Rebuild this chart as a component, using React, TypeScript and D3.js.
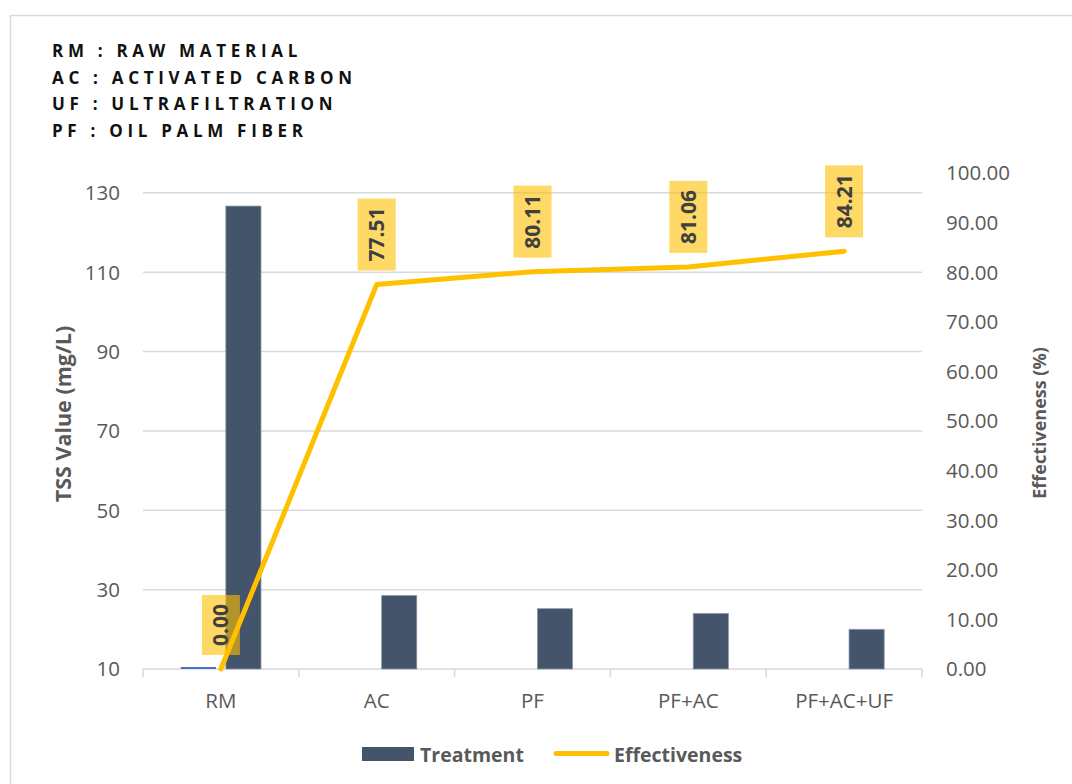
import React, { useEffect, useRef } from 'react';
import * as d3 from 'd3';

// Treatment stages and measured values
const categories = ['RM', 'AC', 'PF', 'PF+AC', 'PF+AC+UF'];
const tssValues = [126.67, 28.49, 25.2, 23.99, 20.0];
const effectiveness = [0, 77.51, 80.11, 81.06, 84.21];
const baselineBars: (number | null)[] = [10.5, null, null, null, null];

const leftTicks = [10, 30, 50, 70, 90, 110, 130];
const rightTicks = [0, 10, 20, 30, 40, 50, 60, 70, 80, 90, 100];

const abbreviations = [
  'RM : RAW MATERIAL',
  'AC : ACTIVATED CARBON',
  'UF : ULTRAFILTRATION',
  'PF : OIL PALM FIBER',
];

const W = 1072;
const H = 784;
const FONT = '"Open Sans", "DejaVu Sans", sans-serif';
const BAR = '#44546A';
const LINE = '#FFC000';
const GRID = '#d9d9d9';
const TEXT = '#595959';

export default function App() {
  const ref = useRef<SVGSVGElement | null>(null);

  useEffect(() => {
    const svg = d3.select(ref.current);
    svg.selectAll('*').remove();

    const plot = { left: 143, right: 922, top: 173, bottom: 669 };

    const x = d3.scaleBand<string>().domain(categories).range([plot.left, plot.right]);
    const x1 = d3
      .scaleBand<string>()
      .domain(['base', 'tss'])
      .range([0, x.bandwidth()])
      .paddingInner(0.22)
      .paddingOuter(0.84);
    const yL = d3.scaleLinear().domain([10, 135]).range([plot.bottom, plot.top]);
    const yR = d3.scaleLinear().domain([0, 100]).range([plot.bottom, plot.top]);

    svg.append('rect').attr('x', 0).attr('y', 0).attr('width', W).attr('height', H).attr('fill', '#fff');
    svg
      .append('rect')
      .attr('x', 10.5)
      .attr('y', 15.5)
      .attr('width', 1200)
      .attr('height', 900)
      .attr('fill', 'none')
      .attr('stroke', GRID)
      .attr('stroke-width', 1.5);

    // Abbreviation key
    const key = svg.append('g');
    abbreviations.forEach((t, i) => {
      key
        .append('text')
        .attr('x', 52)
        .attr('y', 57 + i * 26.7)
        .attr('font-family', FONT)
        .attr('font-weight', 700)
        .attr('font-size', 17)
        .attr('letter-spacing', 4.7)
        .attr('fill', '#111')
        .text(t);
    });

    // Gridlines
    svg
      .append('g')
      .selectAll('line')
      .data(leftTicks)
      .join('line')
      .attr('x1', plot.left)
      .attr('x2', plot.right)
      .attr('y1', (d) => yL(d))
      .attr('y2', (d) => yL(d))
      .attr('stroke', GRID)
      .attr('stroke-width', 1.5);

    // Category tick marks
    const bounds = categories.map((c) => x(c)!).concat([plot.right]);
    svg
      .append('g')
      .selectAll('line')
      .data(bounds)
      .join('line')
      .attr('x1', (d) => d)
      .attr('x2', (d) => d)
      .attr('y1', plot.bottom)
      .attr('y2', plot.bottom + 8)
      .attr('stroke', GRID)
      .attr('stroke-width', 1.5);

    // Left tick labels
    svg
      .append('g')
      .selectAll('text')
      .data(leftTicks)
      .join('text')
      .attr('x', 120)
      .attr('y', (d) => yL(d) + 7.3)
      .attr('text-anchor', 'end')
      .attr('font-family', FONT)
      .attr('font-size', 20.5)
      .attr('fill', TEXT)
      .text((d) => String(d));

    // Right tick labels
    svg
      .append('g')
      .selectAll('text')
      .data(rightTicks)
      .join('text')
      .attr('x', 946)
      .attr('y', (d) => yR(d) + 7.3)
      .attr('font-family', FONT)
      .attr('font-size', 20.5)
      .attr('fill', TEXT)
      .text((d) => d.toFixed(2));

    // Category labels
    svg
      .append('g')
      .selectAll('text')
      .data(categories)
      .join('text')
      .attr('x', (d) => x(d)! + x.bandwidth() / 2)
      .attr('y', 708)
      .attr('text-anchor', 'middle')
      .attr('font-family', FONT)
      .attr('font-size', 20.5)
      .attr('fill', TEXT)
      .text((d) => d);

    // Axis titles
    svg
      .append('text')
      .attr('transform', 'translate(71,414) rotate(-90)')
      .attr('text-anchor', 'middle')
      .attr('font-family', FONT)
      .attr('font-weight', 700)
      .attr('font-size', 21.5)
      .attr('fill', TEXT)
      .text('TSS Value (mg/L)');
    svg
      .append('text')
      .attr('transform', 'translate(1046,423) rotate(-90)')
      .attr('text-anchor', 'middle')
      .attr('font-family', FONT)
      .attr('font-weight', 700)
      .attr('font-size', 18)
      .attr('fill', TEXT)
      .text('Effectiveness (%)');

    // Baseline bars
    svg
      .append('g')
      .selectAll('rect')
      .data(categories.map((c, i) => ({ c, v: baselineBars[i] })).filter((d) => d.v != null))
      .join('rect')
      .attr('x', (d) => x(d.c)! + x1('base')!)
      .attr('width', x1.bandwidth())
      .attr('y', (d) => yL(d.v as number))
      .attr('height', (d) => plot.bottom - yL(d.v as number))
      .attr('fill', '#4472C4');

    // TSS bars
    svg
      .append('g')
      .selectAll('rect')
      .data(categories.map((c, i) => ({ c, v: tssValues[i] })))
      .join('rect')
      .attr('x', (d) => x(d.c)! + x1('tss')!)
      .attr('width', x1.bandwidth())
      .attr('y', (d) => yL(d.v))
      .attr('height', (d) => plot.bottom - yL(d.v))
      .attr('fill', BAR)
      .attr('stroke', '#8a97aa')
      .attr('stroke-width', 0.8);

    // Effectiveness line
    const pts = categories.map((c, i) => ({ c, v: effectiveness[i] }));
    const line = d3
      .line<{ c: string; v: number }>()
      .x((d) => x(d.c)! + x.bandwidth() / 2)
      .y((d) => yR(d.v));
    svg
      .append('path')
      .attr('d', line(pts))
      .attr('fill', 'none')
      .attr('stroke', LINE)
      .attr('stroke-width', 5)
      .attr('stroke-linejoin', 'round')
      .attr('stroke-linecap', 'round');

    // Value labels
    const labels = svg.append('g');
    pts.forEach((d) => {
      const cx = x(d.c)! + x.bandwidth() / 2;
      const py = yR(d.v);
      const g = labels.append('g');
      const box = g.append('rect').attr('fill', LINE).attr('fill-opacity', 0.6);
      const t = g
        .append('text')
        .attr('text-anchor', 'middle')
        .attr('font-family', FONT)
        .attr('font-weight', 700)
        .attr('font-size', 21)
        .attr('fill', '#404040')
        .text(d.v.toFixed(2));
      const len = (t.node() as SVGTextElement).getComputedTextLength();
      const h = len + 18;
      const bottom = py - 14;
      const cy = bottom - h / 2;
      box.attr('x', cx - 19).attr('y', bottom - h).attr('width', 38).attr('height', h);
      t.attr('transform', `translate(${cx + 7.5},${cy}) rotate(-90)`);
    });

    // Legend
    const lg = svg.append('g');
    lg.append('rect').attr('x', 362).attr('y', 747).attr('width', 52).attr('height', 14).attr('fill', BAR);
    lg.append('text')
      .attr('x', 420)
      .attr('y', 761.5)
      .attr('font-family', FONT)
      .attr('font-weight', 700)
      .attr('font-size', 19.5)
      .attr('fill', TEXT)
      .text('Treatment');
    lg.append('line')
      .attr('x1', 556)
      .attr('x2', 607)
      .attr('y1', 753.5)
      .attr('y2', 753.5)
      .attr('stroke', LINE)
      .attr('stroke-width', 5)
      .attr('stroke-linecap', 'round');
    lg.append('text')
      .attr('x', 614)
      .attr('y', 761.5)
      .attr('font-family', FONT)
      .attr('font-weight', 700)
      .attr('font-size', 19.5)
      .attr('fill', TEXT)
      .text('Effectiveness');
  }, []);

  return (
    <svg
      ref={ref}
      width={W}
      height={H}
      style={{ position: 'absolute', left: 0, top: 0, display: 'block' }}
    />
  );
}
